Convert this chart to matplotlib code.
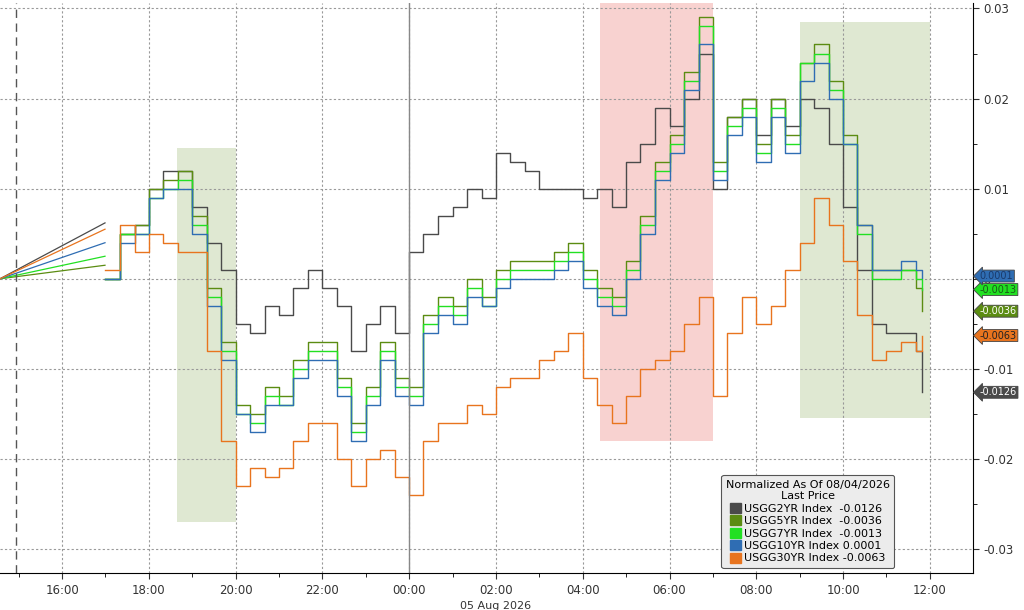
'''
OUTPUT:
    Normalized US treasury yields (2Y/5Y/7Y/10Y/30Y) intraday, 04-05 Aug 2026
'''

# --- input ---
import numpy as np
import matplotlib.pyplot as plt
from matplotlib.patches import Patch

# hours relative to 00:00 05 Aug 2026
hours = [-7, -6.67, -6.33, -6, -5.67, -5.33, -5, -4.67, -4.33, -4, -3.67, -3.33,
         -3, -2.67, -2.33, -2, -1.67, -1.33, -1, -0.67, -0.33, 0, 0.33, 0.67,
         1, 1.33, 1.67, 2, 2.33, 2.67, 3, 3.33, 3.67, 4, 4.33, 4.67,
         5, 5.33, 5.67, 6, 6.33, 6.67, 7, 7.33, 7.67, 8, 8.33, 8.67,
         9, 9.33, 9.67, 10, 10.33, 10.67, 11, 11.33, 11.67, 11.83]

us2 = [0.0, 0.005, 0.006, 0.010, 0.012, 0.012, 0.008, 0.004, 0.001, -0.005, -0.006, -0.003,
       -0.004, -0.001, 0.001, -0.001, -0.003, -0.008, -0.005, -0.003, -0.006, 0.003, 0.005, 0.007,
       0.008, 0.010, 0.009, 0.014, 0.013, 0.012, 0.010, 0.010, 0.010, 0.009, 0.010, 0.008,
       0.013, 0.015, 0.019, 0.017, 0.020, 0.025, 0.010, 0.018, 0.020, 0.016, 0.020, 0.017,
       0.020, 0.019, 0.015, 0.008, 0.001, -0.005, -0.006, -0.006, -0.008, -0.0126]
us5 = [0.0, 0.005, 0.006, 0.010, 0.011, 0.012, 0.007, -0.001, -0.007, -0.014, -0.015, -0.012,
       -0.013, -0.009, -0.007, -0.007, -0.011, -0.016, -0.012, -0.007, -0.011, -0.012, -0.004, -0.002,
       -0.003, 0.000, -0.002, 0.001, 0.002, 0.002, 0.002, 0.003, 0.004, 0.001, -0.001, -0.002,
       0.002, 0.007, 0.013, 0.016, 0.023, 0.029, 0.013, 0.018, 0.020, 0.015, 0.020, 0.016,
       0.024, 0.026, 0.022, 0.016, 0.006, 0.001, 0.001, 0.001, -0.001, -0.0036]
us7 = [0.0, 0.005, 0.005, 0.009, 0.010, 0.011, 0.006, -0.002, -0.008, -0.015, -0.016, -0.013,
       -0.014, -0.010, -0.008, -0.008, -0.012, -0.017, -0.013, -0.008, -0.012, -0.013, -0.005, -0.003,
       -0.004, -0.001, -0.003, 0.000, 0.001, 0.001, 0.001, 0.002, 0.003, 0.000, -0.002, -0.003,
       0.001, 0.006, 0.012, 0.015, 0.022, 0.028, 0.012, 0.017, 0.019, 0.014, 0.019, 0.015,
       0.024, 0.025, 0.021, 0.015, 0.005, 0.000, 0.000, 0.001, 0.000, -0.0013]
us10 = [0.0, 0.004, 0.005, 0.009, 0.010, 0.010, 0.005, -0.003, -0.009, -0.015, -0.017, -0.014,
        -0.014, -0.011, -0.009, -0.009, -0.013, -0.018, -0.014, -0.009, -0.013, -0.014, -0.006, -0.004,
        -0.005, -0.002, -0.003, -0.001, 0.000, 0.000, 0.000, 0.001, 0.002, -0.001, -0.003, -0.004,
        0.000, 0.005, 0.011, 0.014, 0.021, 0.026, 0.011, 0.016, 0.018, 0.013, 0.018, 0.014,
        0.022, 0.024, 0.020, 0.015, 0.006, 0.001, 0.001, 0.002, 0.001, 0.0001]
us30 = [0.001, 0.006, 0.003, 0.005, 0.004, 0.003, 0.003, -0.008, -0.018, -0.023, -0.021, -0.022,
        -0.021, -0.018, -0.016, -0.016, -0.020, -0.023, -0.020, -0.019, -0.022, -0.024, -0.018, -0.016,
        -0.016, -0.014, -0.015, -0.012, -0.011, -0.011, -0.009, -0.008, -0.006, -0.011, -0.014, -0.016,
        -0.013, -0.010, -0.009, -0.008, -0.005, -0.002, -0.013, -0.006, -0.002, -0.005, -0.003, 0.001,
        0.004, 0.009, 0.006, 0.002, -0.004, -0.009, -0.008, -0.007, -0.008, -0.0063]

# value at 15:00 and the level just before the 17:00 reopen
start_hour = -9.43
reopen = {'2YR': 0.0062, '5YR': 0.0015, '7YR': 0.0025, '10YR': 0.004, '30YR': 0.0055}

names = ['USGG2YR Index', 'USGG5YR Index', 'USGG7YR Index', 'USGG10YR Index', 'USGG30YR Index']
keys = ['2YR', '5YR', '7YR', '10YR', '30YR']
series = [us2, us5, us7, us10, us30]
last = ['-0.0126', '-0.0036', '-0.0013', '0.0001', '-0.0063']
colors = ['#4a4a4a', '#5b8c12', '#22e022', '#2f6db3', '#e8741e']

tick_hours = [-8, -6, -4, -2, 0, 2, 4, 6, 8, 10, 12]
tick_labels = ['16:00', '18:00', '20:00', '22:00', '00:00', '02:00', '04:00',
               '06:00', '08:00', '10:00', '12:00']

# shaded periods: (start, end, low, high, colour)
shades = [(-5.35, -4.0, -0.027, 0.0145, '#dfe8d2'),
          (4.4, 7.0, -0.018, 0.0306, '#f8d2d0'),
          (9.0, 12.0, -0.0155, 0.0285, '#dfe8d2')]


def plot_lines(ax):
    '''plot the normalized yields as step lines'''
    for key, vals, c in zip(keys, series, colors):
        ax.plot([start_hour, -7.01], [0, reopen[key]], color=c, lw=0.9)
        ax.step(hours, vals, where='post', color=c, lw=1.0)


def set_axes(ax):
    '''bloomberg-like axis styling'''
    ax.set_xlim(-9.43, 12.99)
    ax.set_ylim(-0.0327, 0.0306)
    ax.yaxis.tick_right()
    ax.set_yticks([0.03, 0.02, 0.01, 0, -0.01, -0.02, -0.03])
    ax.set_yticklabels(['0.03', '0.02', '0.01', '0', '-0.01', '-0.02', '-0.03'])
    ax.set_yticks(np.arange(-0.025, 0.03, 0.01), minor=True)
    ax.set_xticks(tick_hours)
    ax.set_xticklabels(tick_labels)
    ax.set_xticks(np.arange(-9, 13, 1), minor=True)
    ax.tick_params(labelsize=8.5, colors='#333333', length=4)
    ax.tick_params(which='minor', length=3)
    ax.grid(True, ls=(0, (2, 2)), color='#999999', lw=0.8)
    for s in ['top', 'left']:
        ax.spines[s].set_visible(False)
    ax.axvline(0, color='#888888', lw=1.0)
    ax.axvline(-9.05, color='#555555', lw=1.0, ls=(0, (6, 4)))
    ax.text(2, -0.0358, '05 Aug 2026', ha='center', va='top', fontsize=8, color='#333333')


if __name__ == '__main__':
    fig = plt.figure(figsize=(10.24, 6.1), dpi=100)
    ax = fig.add_axes([0.0, 0.06, 0.950, 0.935])

    for x0, x1, lo, hi, c in shades:
        ax.fill_between([x0, x1], lo, hi, color=c, lw=0, zorder=0)

    plot_lines(ax)
    set_axes(ax)

    # last-price tags on the right axis
    tag_pos = [-0.0126, -0.0036, -0.0012, 0.0003, -0.0063]
    text_col = ['white', 'white', '#1a5a1a', '#1a3a6a', '#222222']
    for y, lab, c, tc in zip(tag_pos, last, colors, text_col):
        ax.annotate(lab, xy=(1.0, y), xycoords=('axes fraction', 'data'),
                    xytext=(5, 0), textcoords='offset points', ha='left', va='center',
                    fontsize=7, color=tc,
                    bbox=dict(boxstyle='larrow,pad=0.1', fc=c, ec='#444444', lw=0.6),
                    annotation_clip=False)

    handles = [Patch(color=c) for c in colors]
    labels = ['{:<15s}{}'.format(n, v) for n, v in zip(names, last)]
    leg = ax.legend(handles, labels, title='Normalized As Of 08/04/2026\nLast Price',
                    loc='lower right', bbox_to_anchor=(0.925, 0.0), fontsize=8,
                    title_fontsize=8, handlelength=1.0, handleheight=1.0,
                    handletextpad=0.3, labelspacing=0.15, fancybox=True,
                    framealpha=1, facecolor='#ececec', edgecolor='#555555')
    leg.get_title().set_multialignment('center')
    leg.get_frame().set_linewidth(0.8)

    fig.savefig('out.png')
